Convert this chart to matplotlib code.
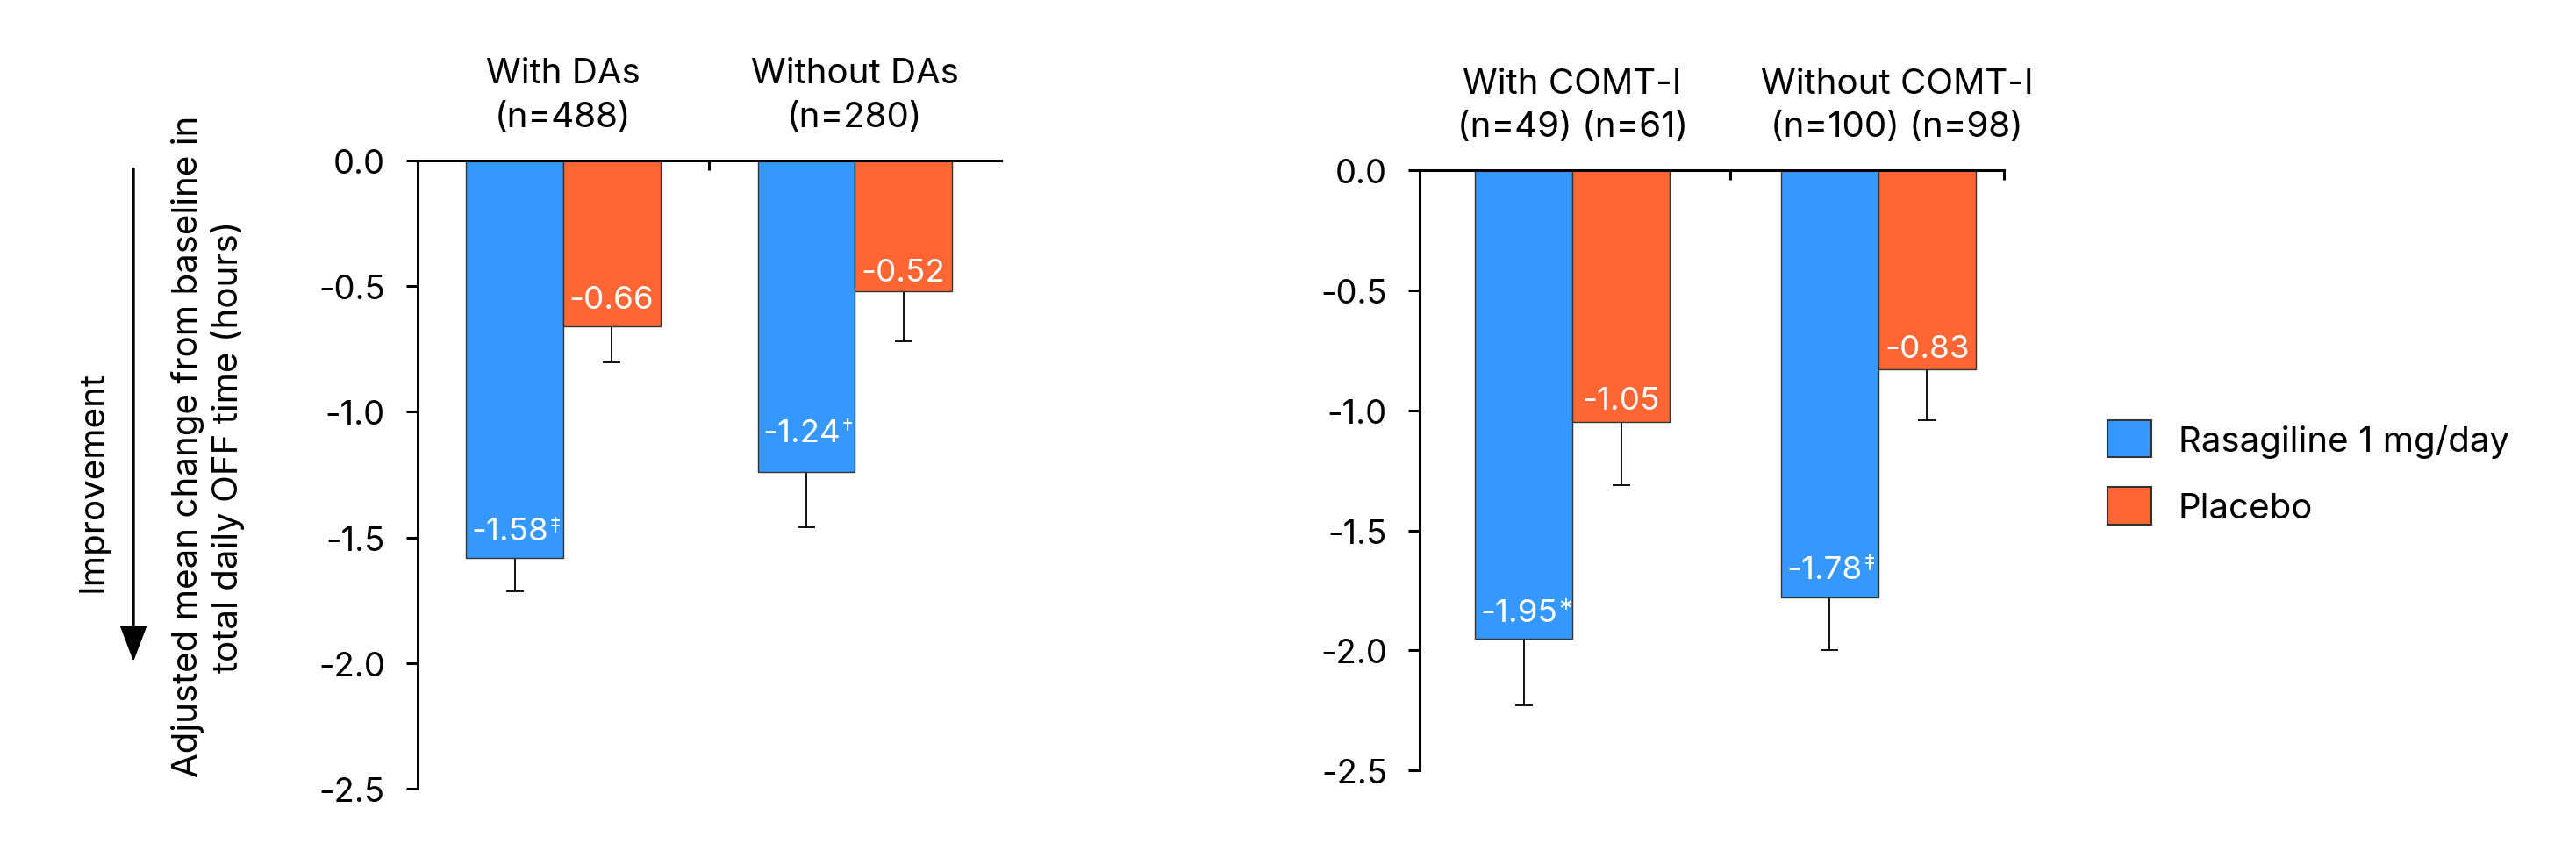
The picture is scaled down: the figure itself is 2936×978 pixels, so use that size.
import matplotlib
matplotlib.use('Agg')
import matplotlib.pyplot as plt
from matplotlib.patches import Patch, FancyArrow

plt.rcParams['font.family'] = ['Inter', 'DejaVu Sans']
plt.rcParams['axes.unicode_minus'] = False

# data
groups_da = ['With DAs\n(n=488)', 'Without DAs\n(n=280)']
rasa_da = [-1.58, -1.24]
plac_da = [-0.66, -0.52]
rasa_da_se = [0.135, 0.22]
plac_da_se = [0.143, 0.20]
rasa_da_mark = ['‡', '†']

groups_comt = ['With COMT-I\n(n=49) (n=61)', 'Without COMT-I\n(n=100) (n=98)']
rasa_comt = [-1.95, -1.78]
plac_comt = [-1.05, -0.83]
rasa_comt_se = [0.28, 0.22]
plac_comt_se = [0.26, 0.21]
rasa_comt_mark = ['*', '‡']

yticks = [0.0, -0.5, -1.0, -1.5, -2.0, -2.5]
legend_labels = ['Rasagiline 1 mg/day', 'Placebo']

blue = '#3598FE'
orange = '#FF6633'

# label lift above bar bottom (points), rasa then placebo per panel
lift_da = [[14.8, 25.0], [15.1, 8.6]]
lift_comt = [[13.9, 16.3], [11.2, 10.4]]
title_dx = [[0.0, 0.0], [0.0, 0.06]]

fig = plt.figure(figsize=(29.36, 9.79), dpi=100)
ax1 = fig.add_axes([0.162, 0.0803, 0.2265, 0.7322])
ax2 = fig.add_axes([0.551, 0.1018, 0.2269, 0.6992])


def panel(ax, groups, rasa, plac, rse, pse, marks, w, xmax, xt, lifts, tdx):
    xs = list(range(len(groups)))
    b1 = ax.bar([i - w for i in xs], rasa, w, align='edge', color=blue,
                edgecolor='#333333', linewidth=1.0, zorder=2)
    b2 = ax.bar(xs, plac, w, align='edge', color=orange,
                edgecolor='#333333', linewidth=1.0, zorder=2)
    ax.errorbar([i - w / 2 for i in xs], rasa, yerr=[rse, [0] * len(rse)],
                fmt='none', ecolor='black', elinewidth=1.3, capsize=7,
                capthick=1.3, zorder=1)
    ax.errorbar([i + w / 2 for i in xs], plac, yerr=[pse, [0] * len(pse)],
                fmt='none', ecolor='black', elinewidth=1.3, capsize=7,
                capthick=1.3, zorder=1)
    for i in xs:
        t = ax.annotate('%.2f' % rasa[i], xy=(i - w / 2, rasa[i]),
                        xytext=(-4, lifts[0][i]), textcoords='offset points',
                        ha='center', va='baseline', color='white',
                        fontsize=26.5, zorder=3)
        ax.annotate(marks[i], xy=(1, 1), xycoords=t, xytext=(1, 1),
                    textcoords='offset points', ha='left', va='top',
                    color='white', fontsize=18 if marks[i] != '*' else 23,
                    zorder=3)
        ax.annotate('%.2f' % plac[i], xy=(i + w / 2, plac[i]),
                    xytext=(0, lifts[1][i]), textcoords='offset points',
                    ha='center', va='baseline', color='white',
                    fontsize=26.5, zorder=3)
        top, bot = groups[i].split('\n')
        ax.annotate(top, xy=(i + tdx[i], 1), xycoords=('data', 'axes fraction'),
                    xytext=(0, 71), textcoords='offset points',
                    ha='center', va='center', fontsize=29)
        ax.annotate(bot, xy=(i + tdx[i], 1), xycoords=('data', 'axes fraction'),
                    xytext=(0, 35.5), textcoords='offset points',
                    ha='center', va='center', fontsize=29)
    ax.set_xlim(-0.5, xmax)
    ax.set_ylim(-2.5, 0)
    ax.set_yticks(yticks)
    ax.set_yticklabels(['%.1f' % v for v in yticks])
    ax.set_xticks(xt)
    ax.xaxis.tick_top()
    ax.tick_params(axis='x', direction='in', length=8, width=2.2,
                   labeltop=False, labelbottom=False)
    ax.tick_params(axis='y', direction='out', length=9.5, width=2.2,
                   labelsize=27.5, pad=17)
    for s in ['right', 'bottom']:
        ax.spines[s].set_visible(False)
    for s in ['left', 'top']:
        ax.spines[s].set_linewidth(2.2)
    return b1, b2


panel(ax1, groups_da, rasa_da, plac_da, rasa_da_se, plac_da_se,
      rasa_da_mark, 0.333, 1.5, [0.5], lift_da, title_dx[0])
panel(ax2, groups_comt, rasa_comt, plac_comt, rasa_comt_se, plac_comt_se,
      rasa_comt_mark, 0.318, 1.41, [0.515, 1.41], lift_comt, title_dx[1])

fig.text(0.0807, 0.4801,
         'Adjusted mean change from baseline in\ntotal daily OFF time (hours)',
         rotation=90, ha='center', va='center', multialignment='center',
         fontsize=29)
fig.text(0.0361, 0.4392, 'Improvement', rotation=90, ha='center',
         va='center', fontsize=29)
fig.patches.append(FancyArrow(0.0518, 0.8029, 0, -0.572, width=0.0006,
                              head_width=0.0099, head_length=0.039,
                              length_includes_head=True, color='black',
                              transform=fig.transFigure, figure=fig))

fig.legend(handles=[Patch(facecolor=blue, edgecolor='#333333', linewidth=1.5),
                    Patch(facecolor=orange, edgecolor='#333333', linewidth=1.5)],
           labels=legend_labels, loc='center left',
           bbox_to_anchor=(0.818, 0.449), frameon=False, fontsize=29,
           handlelength=1.24, handleheight=1.24, labelspacing=0.84,
           handletextpad=0.77, borderpad=0, borderaxespad=0)

fig.savefig('out.png', dpi=100)
